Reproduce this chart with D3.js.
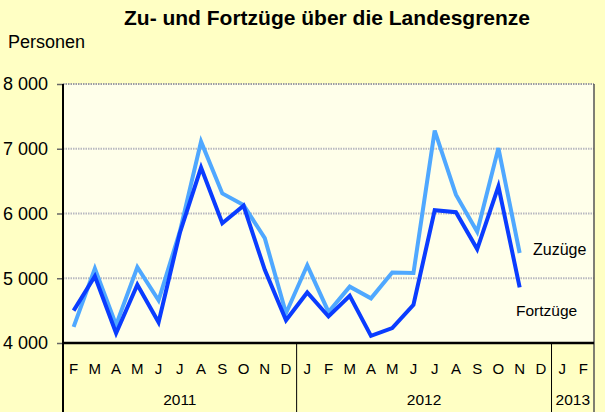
<!DOCTYPE html>
<html><head><meta charset="utf-8">
<script src="https://cdn.jsdelivr.net/npm/d3@7"></script>
<style>
html,body{margin:0;padding:0;background:#FFFFC4;}
svg{display:block;font-family:"Liberation Sans",Arial,sans-serif;}
</style></head>
<body>
<svg id="c" width="605" height="412"></svg>
<script>
const months = ["F","M","A","M","J","J","A","S","O","N","D","J","F","M","A","M","J","J","A","S","O","N","D","J","F"];
const years = [{label:"2011", n:11},{label:"2012", n:12},{label:"2013", n:2}];
const zuzuege = [4250,5150,4280,5170,4660,5720,7110,6310,6130,5620,4460,5200,4480,4870,4690,5090,5080,7280,6290,5720,7010,5390];
const fortzuege = [4500,5030,4150,4900,4320,5700,6710,5850,6120,5130,4350,4780,4410,4730,4110,4230,4590,6050,6020,5450,6420,4860];
const yTicks = [4000,5000,6000,7000,8000];

const svg = d3.select("#c");
const L=63, R=594, T=84, B=343, H=412;
const idx = d3.range(months.length);
const x = d3.scaleBand().domain(idx).range([L,R]);
const y = d3.scaleLinear().domain([4000,8000]).range([B,T]);

svg.append("rect").attr("x",0).attr("y",0).attr("width",605).attr("height",412).attr("fill","#FFFFC4");
svg.append("rect").attr("x",L).attr("y",T).attr("width",R-L).attr("height",B-T).attr("fill","#FFFFEA");

// title
svg.append("text").attr("x",327).attr("y",25).attr("text-anchor","middle")
  .attr("font-size",21).attr("font-weight","bold").attr("fill","#000").text("Zu- und Fortzüge über die Landesgrenze");
svg.append("text").attr("x",8).attr("y",48).attr("font-size",18).attr("fill","#000").text("Personen");

// gridlines
svg.append("g").selectAll("line").data(yTicks.filter(d=>d>4000)).join("line")
  .attr("x1",L).attr("x2",R).attr("y1",d=>y(d)).attr("y2",d=>y(d))
  .attr("stroke",d=>d===8000?"#9a9aa4":"#b8b8c0").attr("stroke-width",2).attr("stroke-dasharray","1.5,1");

// y axis
const ya = d3.axisLeft(y).tickValues(yTicks).tickSize(6).tickPadding(9);
const gy = svg.append("g").attr("transform",`translate(${L},0)`).call(ya);
gy.select(".domain").remove();
gy.selectAll(".tick line").attr("stroke","#666").attr("stroke-width",1.5);
gy.selectAll(".tick text").attr("font-size",18).attr("fill","#000")
  .attr("font-family","'Liberation Sans',Arial,sans-serif").text(d=>d3.format(",")(d).replace(","," "));

// lines
const line = d3.line().x((d,i)=>x(i)+x.bandwidth()/2).y(d=>y(d));
svg.append("path").datum(zuzuege).attr("d",line).attr("fill","none")
  .attr("stroke","#4FA8FF").attr("stroke-width",4).attr("stroke-linejoin","miter");
svg.append("path").datum(fortzuege).attr("d",line).attr("fill","none")
  .attr("stroke","#0A3CFF").attr("stroke-width",4).attr("stroke-linejoin","miter");

// labels
svg.append("text").attr("x",533).attr("y",255).attr("font-size",16).attr("fill","#000").text("Zuzüge");
svg.append("text").attr("x",516).attr("y",316).attr("font-size",15.5).attr("fill","#000").text("Fortzüge");

// borders
svg.append("line").attr("x1",L).attr("x2",L).attr("y1",T).attr("y2",H).attr("stroke","#000").attr("stroke-width",2);
svg.append("line").attr("x1",R).attr("x2",R).attr("y1",T).attr("y2",H).attr("stroke","#555").attr("stroke-width",1.5);
svg.append("line").attr("x1",L-1).attr("x2",R).attr("y1",B).attr("y2",B).attr("stroke","#000").attr("stroke-width",2.5);

// month labels
svg.append("g").selectAll("text").data(idx).join("text")
  .attr("x",i=>x(i)+x.bandwidth()/2).attr("y",374).attr("text-anchor","middle")
  .attr("font-size",15).attr("fill","#000").text(i=>months[i]);

// year separators and labels
let start=0;
years.forEach((yr,k)=>{
  const x0 = x(start), x1 = x(start+yr.n-1)+x.bandwidth();
  if(k>0) svg.append("line").attr("x1",x0).attr("x2",x0).attr("y1",B).attr("y2",H).attr("stroke","#000").attr("stroke-width",1);
  svg.append("text").attr("x",(x0+x1)/2).attr("y",405).attr("text-anchor","middle")
    .attr("font-size",15.5).attr("fill","#000").text(yr.label);
  start += yr.n;
});
</script>
</body></html>
